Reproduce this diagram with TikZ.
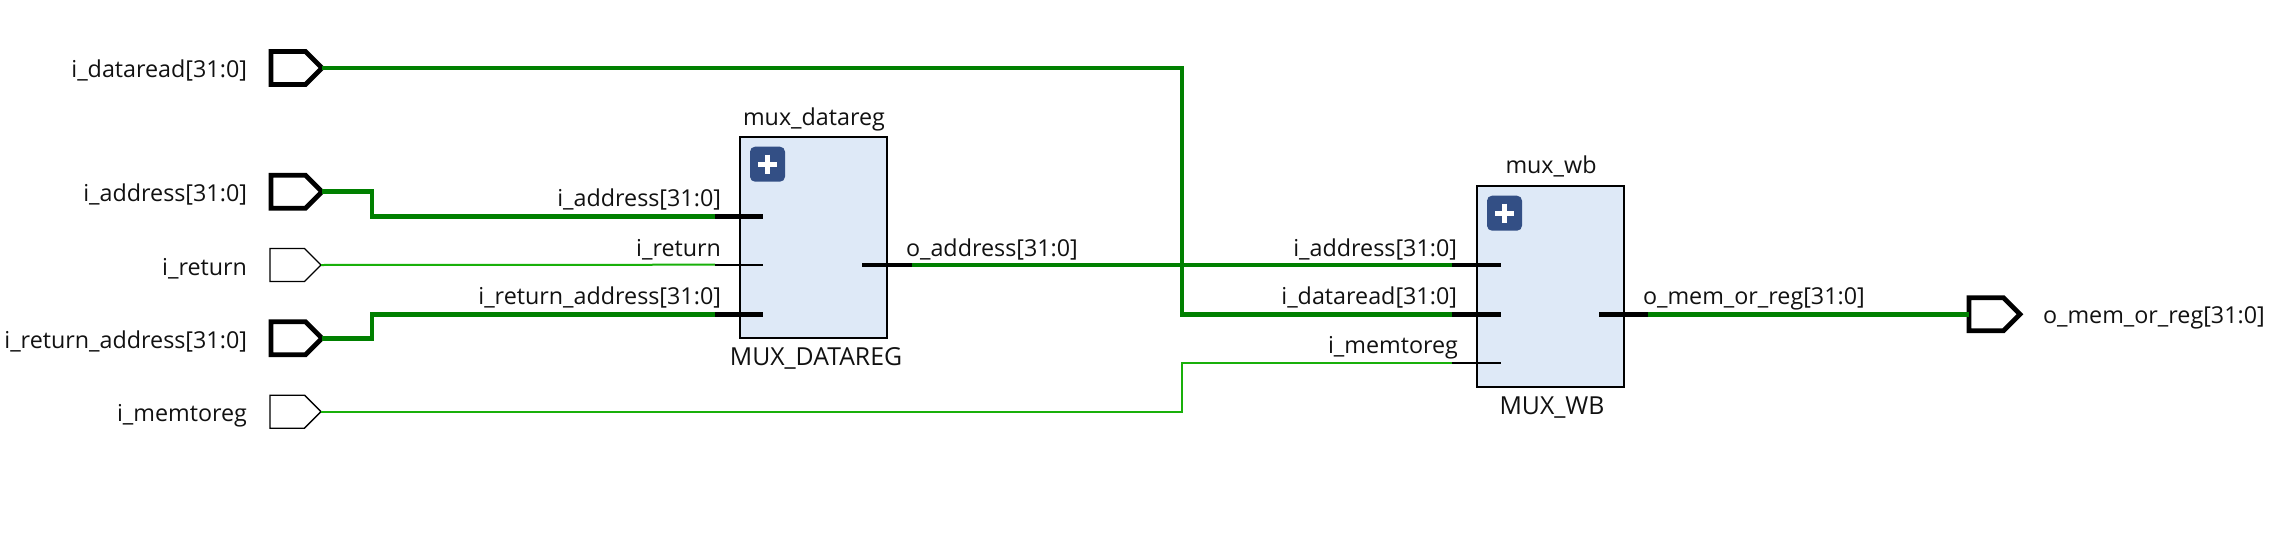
\documentclass[tikz,border=0pt]{standalone}
\usepackage{fontspec}
\setmainfont{Open Sans}
\usetikzlibrary{shapes.symbols,calc}
\definecolor{busgreen}{HTML}{008000}
\definecolor{siggreen}{HTML}{19B00A}
\definecolor{blockfill}{HTML}{DEE9F7}
\definecolor{plusfill}{HTML}{334F85}
\definecolor{inktext}{HTML}{111111}
\tikzset{
  x=1pt,y=-1pt,
  portbase/.style={shape=signal,signal to=east,signal from=nowhere,draw=black,fill=white,
    minimum width=51pt,minimum height=33pt,inner sep=0pt,outer sep=0pt,anchor=west,miter limit=4},
  busport/.style={portbase,line width=4.8pt},
  sigport/.style={portbase,line width=1.4pt},
  label/.style={inner sep=0pt,outer sep=0pt,font=\fontsize{23.3}{28}\selectfont,text=inktext},
  rlabel/.style={label,anchor=base east},
  llabel/.style={label,anchor=base west},
  clabel/.style={label,anchor=base},
  caplabel/.style={clabel,font=\fontsize{24.8}{28}\selectfont},
  busw/.style={line width=4.8pt,busgreen},
  sigw/.style={line width=2pt,siggreen},
  busstub/.style={line width=4.8pt,black},
  sigstub/.style={line width=2pt,black},
  block/.style={draw=black,fill=blockfill,line width=2pt,inner sep=0pt,outer sep=0pt,
    minimum width=147pt,minimum height=201pt,anchor=north west},
  plusbox/.style={fill=plusfill,draw=none,rounded corners=5pt,minimum size=35pt,inner sep=0pt,
    outer sep=0pt,anchor=north west},
  plusbar/.style={line width=5pt,white},
}
\begin{document}
\begin{tikzpicture}
\useasboundingbox (0,0) rectangle (2294,535);
% ports
\node[busport] (pdr) at (271,68) {};
\node[busport] (pad) at (271,191.7) {};
\node[sigport] (pre) at (270,265) {};
\node[busport] (pra) at (271,338.3) {};
\node[sigport] (pmt) at (270,411.7) {};
\node[busport] (pout) at (1969,314.3) {};
% port labels
\node[rlabel] (ldr) at (247,77.7) {i\_dataread[31:0]};
\node[rlabel] (lad) at (247,201) {i\_address[31:0]};
\node[rlabel] (lre) at (247,275) {i\_return};
\node[rlabel] (lra) at (247,348) {i\_return\_address[31:0]};
\node[rlabel] (lmt) at (247,421) {i\_memtoreg};
\node[llabel] (lout) at (2043,323) {o\_mem\_or\_reg[31:0]};
% block anchors
\coordinate (a1) at (715,216.3);
\coordinate (a2) at (715,264.7);
\coordinate (a3) at (715,314.3);
\coordinate (a1i) at (763,216.3);
\coordinate (a2i) at (763,264.7);
\coordinate (a3i) at (763,314.3);
\coordinate (ao) at (912,265);
\coordinate (aoi) at (862,265);
\coordinate (b1) at (1452,265);
\coordinate (b2) at (1452,314.3);
\coordinate (b3) at (1452,362.7);
\coordinate (b1i) at (1501,265);
\coordinate (b2i) at (1501,314.3);
\coordinate (b3i) at (1501,362.7);
\coordinate (bo) at (1648,314.3);
\coordinate (boi) at (1599,314.3);
\coordinate (j1) at (372,191.7);
\coordinate (j2) at (372,216.3);
\coordinate (j3) at (372,338.3);
\coordinate (j4) at (372,314.3);
\coordinate (j5) at (1182,68);
\coordinate (j6) at (1182,314.3);
\coordinate (j7) at (1182,411.7);
\coordinate (j8) at (1182,362.7);
% wires
\draw[sigw] (pre.east) -- (a2);
\draw[sigw] (pmt.east) -- (j7) -- (j8) -- (b3);
\draw[busw] (ao) -- (b1);
\draw[busw,line join=miter] (pdr.east) -- (j5) -- (j6) -- (b2);
\draw[busw,line join=miter] (pad.east) -- (j1) -- (j2) -- (a1);
\draw[busw,line join=miter] (pra.east) -- (j3) -- (j4) -- (a3);
\draw[busw] (bo) -- (pout.west);
% blocks
\node[block] (ba) at (740,136.7) {};
\node[block] (bb) at (1477,185.7) {};
\node[plusbox] (pa) at (750,146.7) {};
\node[plusbox] (pb) at (1487,195.7) {};
\draw[plusbar] ($(pa.center)+(-9.5,0)$) -- ($(pa.center)+(9.5,0)$);
\draw[plusbar] ($(pa.center)+(0,-9.5)$) -- ($(pa.center)+(0,9.5)$);
\draw[plusbar] ($(pb.center)+(-9.5,0)$) -- ($(pb.center)+(9.5,0)$);
\draw[plusbar] ($(pb.center)+(0,-9.5)$) -- ($(pb.center)+(0,9.5)$);
% stubs
\draw[busstub] (a1) -- (a1i);
\draw[sigstub] (a2) -- (a2i);
\draw[busstub] (a3) -- (a3i);
\draw[busstub] (aoi) -- (ao);
\draw[busstub] (b1) -- (b1i);
\draw[busstub] (b2) -- (b2i);
\draw[sigstub] (b3) -- (b3i);
\draw[busstub] (boi) -- (bo);
% block labels
\node[clabel] (ta) at (814,125) {mux\_datareg};
\node[clabel] (tb) at (1551,173.5) {mux\_wb};
\node[caplabel] (tc) at (816,365) {MUX\_DATAREG};
\node[caplabel] (td) at (1552,414) {MUX\_WB};
% pin labels
\node[rlabel] (n1) at (721,206) {i\_address[31:0]};
\node[rlabel] (n2) at (721,256) {i\_return};
\node[rlabel] (n3) at (721,304) {i\_return\_address[31:0]};
\node[llabel] (n4) at (906,256) {o\_address[31:0]};
\node[rlabel] (n5) at (1457,256) {i\_address[31:0]};
\node[rlabel] (n6) at (1457,304) {i\_dataread[31:0]};
\node[rlabel] (n7) at (1458,353) {i\_memtoreg};
\node[llabel] (n8) at (1643,304) {o\_mem\_or\_reg[31:0]};
\end{tikzpicture}
\end{document}
